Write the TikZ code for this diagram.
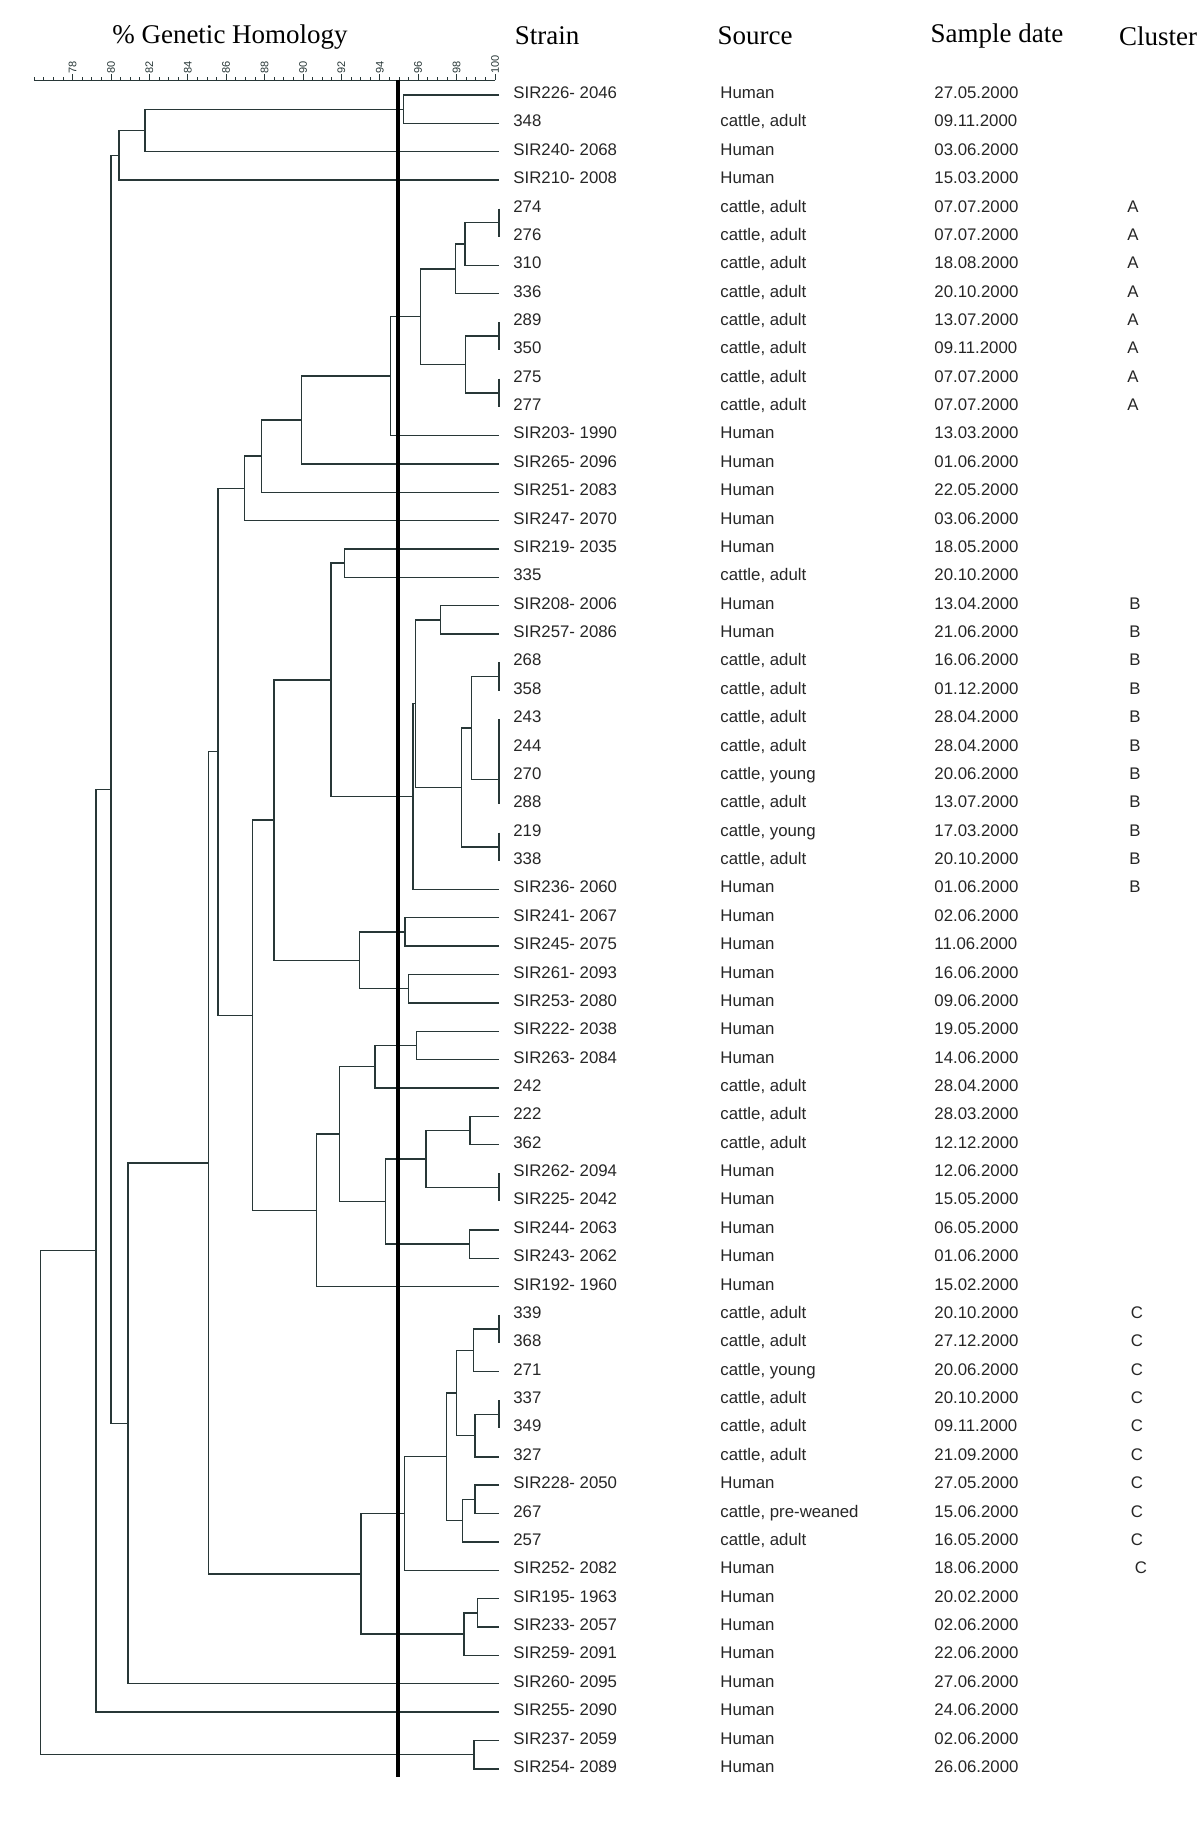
\documentclass[tikz,border=0pt]{standalone}
\usepackage{fontspec}
\setmainfont{Liberation Serif}
\setsansfont{Liberation Sans}
\definecolor{treegray}{RGB}{40,55,55}
\begin{document}
\begin{tikzpicture}[x=0.5pt,y=0.5pt,
  strain/.style={anchor=west, inner xsep=7pt, inner ysep=0pt, text height=6pt, text depth=2.5pt, text=black!85, font=\sffamily\fontsize{8.4}{10}\selectfont},
  cell/.style={anchor=west, inner sep=0pt, text height=6pt, text depth=2.5pt, text=black!85, font=\sffamily\fontsize{8.4}{10}\selectfont},
  grp/.style={inner sep=0pt, text height=6pt, text depth=2.5pt, text=black!85, font=\sffamily\fontsize{8.4}{10}\selectfont},
  head/.style={inner sep=0pt, font=\fontsize{13.5}{16}\selectfont},
  ticklabel/.style={rotate=90, anchor=west, inner sep=0pt, text=treegray, font=\sffamily\fontsize{5.5}{6}\selectfont},
  axisline/.style={draw=treegray, line width=0.5pt},
  branch/.style={draw=treegray, line width=0.7pt}]
\useasboundingbox (0,0) rectangle (1200,-1838);

\node[head] (homology) at (230,-37) {\% Genetic Homology};
\node[head] (strainhead) at (547,-36) {Strain};
\node[head] (sourcehead) at (755,-36) {Source};
\node[head] (datehead) at (997,-36) {Sample date};
\node[head] (clusterhead) at (1158,-36) {Cluster};

\draw[axisline] (34.2,-80) -- (495,-80);
\foreach \p in {76,76.5,...,100}
  \draw[axisline] ({495+(\p-100)*19.2},-80) -- ++(0,3);
\foreach \p in {78,80,...,100} {
  \draw[axisline] ({495+(\p-100)*19.2},-80) -- ++(0,6);
  \node[ticklabel] (tick\p) at ({495+(\p-100)*19.2},-74) {\p};
}

\node[strain] (r1) at (499,-95.0) {SIR226- 2046}; \node[cell] (src1) at (720,-95.0) {Human}; \node[cell] (date1) at (934,-95.0) {27.05.2000};
\node[strain] (r2) at (499,-123.4) {348}; \node[cell] (src2) at (720,-123.4) {cattle, adult}; \node[cell] (date2) at (934,-123.4) {09.11.2000};
\node[strain] (r3) at (499,-151.7) {SIR240- 2068}; \node[cell] (src3) at (720,-151.7) {Human}; \node[cell] (date3) at (934,-151.7) {03.06.2000};
\node[strain] (r4) at (499,-180.1) {SIR210- 2008}; \node[cell] (src4) at (720,-180.1) {Human}; \node[cell] (date4) at (934,-180.1) {15.03.2000};
\node[strain] (r5) at (499,-208.5) {274}; \node[cell] (src5) at (720,-208.5) {cattle, adult}; \node[cell] (date5) at (934,-208.5) {07.07.2000}; \node[grp] (cl5) at (1133,-208.5) {A};
\node[strain] (r6) at (499,-236.9) {276}; \node[cell] (src6) at (720,-236.9) {cattle, adult}; \node[cell] (date6) at (934,-236.9) {07.07.2000}; \node[grp] (cl6) at (1133,-236.9) {A};
\node[strain] (r7) at (499,-265.2) {310}; \node[cell] (src7) at (720,-265.2) {cattle, adult}; \node[cell] (date7) at (934,-265.2) {18.08.2000}; \node[grp] (cl7) at (1133,-265.2) {A};
\node[strain] (r8) at (499,-293.6) {336}; \node[cell] (src8) at (720,-293.6) {cattle, adult}; \node[cell] (date8) at (934,-293.6) {20.10.2000}; \node[grp] (cl8) at (1133,-293.6) {A};
\node[strain] (r9) at (499,-322.0) {289}; \node[cell] (src9) at (720,-322.0) {cattle, adult}; \node[cell] (date9) at (934,-322.0) {13.07.2000}; \node[grp] (cl9) at (1133,-322.0) {A};
\node[strain] (r10) at (499,-350.3) {350}; \node[cell] (src10) at (720,-350.3) {cattle, adult}; \node[cell] (date10) at (934,-350.3) {09.11.2000}; \node[grp] (cl10) at (1133,-350.3) {A};
\node[strain] (r11) at (499,-378.7) {275}; \node[cell] (src11) at (720,-378.7) {cattle, adult}; \node[cell] (date11) at (934,-378.7) {07.07.2000}; \node[grp] (cl11) at (1133,-378.7) {A};
\node[strain] (r12) at (499,-407.1) {277}; \node[cell] (src12) at (720,-407.1) {cattle, adult}; \node[cell] (date12) at (934,-407.1) {07.07.2000}; \node[grp] (cl12) at (1133,-407.1) {A};
\node[strain] (r13) at (499,-435.4) {SIR203- 1990}; \node[cell] (src13) at (720,-435.4) {Human}; \node[cell] (date13) at (934,-435.4) {13.03.2000};
\node[strain] (r14) at (499,-463.8) {SIR265- 2096}; \node[cell] (src14) at (720,-463.8) {Human}; \node[cell] (date14) at (934,-463.8) {01.06.2000};
\node[strain] (r15) at (499,-492.2) {SIR251- 2083}; \node[cell] (src15) at (720,-492.2) {Human}; \node[cell] (date15) at (934,-492.2) {22.05.2000};
\node[strain] (r16) at (499,-520.6) {SIR247- 2070}; \node[cell] (src16) at (720,-520.6) {Human}; \node[cell] (date16) at (934,-520.6) {03.06.2000};
\node[strain] (r17) at (499,-548.9) {SIR219- 2035}; \node[cell] (src17) at (720,-548.9) {Human}; \node[cell] (date17) at (934,-548.9) {18.05.2000};
\node[strain] (r18) at (499,-577.3) {335}; \node[cell] (src18) at (720,-577.3) {cattle, adult}; \node[cell] (date18) at (934,-577.3) {20.10.2000};
\node[strain] (r19) at (499,-605.7) {SIR208- 2006}; \node[cell] (src19) at (720,-605.7) {Human}; \node[cell] (date19) at (934,-605.7) {13.04.2000}; \node[grp] (cl19) at (1135,-605.7) {B};
\node[strain] (r20) at (499,-634.0) {SIR257- 2086}; \node[cell] (src20) at (720,-634.0) {Human}; \node[cell] (date20) at (934,-634.0) {21.06.2000}; \node[grp] (cl20) at (1135,-634.0) {B};
\node[strain] (r21) at (499,-662.4) {268}; \node[cell] (src21) at (720,-662.4) {cattle, adult}; \node[cell] (date21) at (934,-662.4) {16.06.2000}; \node[grp] (cl21) at (1135,-662.4) {B};
\node[strain] (r22) at (499,-690.8) {358}; \node[cell] (src22) at (720,-690.8) {cattle, adult}; \node[cell] (date22) at (934,-690.8) {01.12.2000}; \node[grp] (cl22) at (1135,-690.8) {B};
\node[strain] (r23) at (499,-719.1) {243}; \node[cell] (src23) at (720,-719.1) {cattle, adult}; \node[cell] (date23) at (934,-719.1) {28.04.2000}; \node[grp] (cl23) at (1135,-719.1) {B};
\node[strain] (r24) at (499,-747.5) {244}; \node[cell] (src24) at (720,-747.5) {cattle, adult}; \node[cell] (date24) at (934,-747.5) {28.04.2000}; \node[grp] (cl24) at (1135,-747.5) {B};
\node[strain] (r25) at (499,-775.9) {270}; \node[cell] (src25) at (720,-775.9) {cattle, young}; \node[cell] (date25) at (934,-775.9) {20.06.2000}; \node[grp] (cl25) at (1135,-775.9) {B};
\node[strain] (r26) at (499,-804.3) {288}; \node[cell] (src26) at (720,-804.3) {cattle, adult}; \node[cell] (date26) at (934,-804.3) {13.07.2000}; \node[grp] (cl26) at (1135,-804.3) {B};
\node[strain] (r27) at (499,-832.6) {219}; \node[cell] (src27) at (720,-832.6) {cattle, young}; \node[cell] (date27) at (934,-832.6) {17.03.2000}; \node[grp] (cl27) at (1135,-832.6) {B};
\node[strain] (r28) at (499,-861.0) {338}; \node[cell] (src28) at (720,-861.0) {cattle, adult}; \node[cell] (date28) at (934,-861.0) {20.10.2000}; \node[grp] (cl28) at (1135,-861.0) {B};
\node[strain] (r29) at (499,-889.4) {SIR236- 2060}; \node[cell] (src29) at (720,-889.4) {Human}; \node[cell] (date29) at (934,-889.4) {01.06.2000}; \node[grp] (cl29) at (1135,-889.4) {B};
\node[strain] (r30) at (499,-917.7) {SIR241- 2067}; \node[cell] (src30) at (720,-917.7) {Human}; \node[cell] (date30) at (934,-917.7) {02.06.2000};
\node[strain] (r31) at (499,-946.1) {SIR245- 2075}; \node[cell] (src31) at (720,-946.1) {Human}; \node[cell] (date31) at (934,-946.1) {11.06.2000};
\node[strain] (r32) at (499,-974.5) {SIR261- 2093}; \node[cell] (src32) at (720,-974.5) {Human}; \node[cell] (date32) at (934,-974.5) {16.06.2000};
\node[strain] (r33) at (499,-1002.8) {SIR253- 2080}; \node[cell] (src33) at (720,-1002.8) {Human}; \node[cell] (date33) at (934,-1002.8) {09.06.2000};
\node[strain] (r34) at (499,-1031.2) {SIR222- 2038}; \node[cell] (src34) at (720,-1031.2) {Human}; \node[cell] (date34) at (934,-1031.2) {19.05.2000};
\node[strain] (r35) at (499,-1059.6) {SIR263- 2084}; \node[cell] (src35) at (720,-1059.6) {Human}; \node[cell] (date35) at (934,-1059.6) {14.06.2000};
\node[strain] (r36) at (499,-1088.0) {242}; \node[cell] (src36) at (720,-1088.0) {cattle, adult}; \node[cell] (date36) at (934,-1088.0) {28.04.2000};
\node[strain] (r37) at (499,-1116.3) {222}; \node[cell] (src37) at (720,-1116.3) {cattle, adult}; \node[cell] (date37) at (934,-1116.3) {28.03.2000};
\node[strain] (r38) at (499,-1144.7) {362}; \node[cell] (src38) at (720,-1144.7) {cattle, adult}; \node[cell] (date38) at (934,-1144.7) {12.12.2000};
\node[strain] (r39) at (499,-1173.1) {SIR262- 2094}; \node[cell] (src39) at (720,-1173.1) {Human}; \node[cell] (date39) at (934,-1173.1) {12.06.2000};
\node[strain] (r40) at (499,-1201.4) {SIR225- 2042}; \node[cell] (src40) at (720,-1201.4) {Human}; \node[cell] (date40) at (934,-1201.4) {15.05.2000};
\node[strain] (r41) at (499,-1229.8) {SIR244- 2063}; \node[cell] (src41) at (720,-1229.8) {Human}; \node[cell] (date41) at (934,-1229.8) {06.05.2000};
\node[strain] (r42) at (499,-1258.2) {SIR243- 2062}; \node[cell] (src42) at (720,-1258.2) {Human}; \node[cell] (date42) at (934,-1258.2) {01.06.2000};
\node[strain] (r43) at (499,-1286.5) {SIR192- 1960}; \node[cell] (src43) at (720,-1286.5) {Human}; \node[cell] (date43) at (934,-1286.5) {15.02.2000};
\node[strain] (r44) at (499,-1314.9) {339}; \node[cell] (src44) at (720,-1314.9) {cattle, adult}; \node[cell] (date44) at (934,-1314.9) {20.10.2000}; \node[grp] (cl44) at (1137,-1314.9) {C};
\node[strain] (r45) at (499,-1343.3) {368}; \node[cell] (src45) at (720,-1343.3) {cattle, adult}; \node[cell] (date45) at (934,-1343.3) {27.12.2000}; \node[grp] (cl45) at (1137,-1343.3) {C};
\node[strain] (r46) at (499,-1371.6) {271}; \node[cell] (src46) at (720,-1371.6) {cattle, young}; \node[cell] (date46) at (934,-1371.6) {20.06.2000}; \node[grp] (cl46) at (1137,-1371.6) {C};
\node[strain] (r47) at (499,-1400.0) {337}; \node[cell] (src47) at (720,-1400.0) {cattle, adult}; \node[cell] (date47) at (934,-1400.0) {20.10.2000}; \node[grp] (cl47) at (1137,-1400.0) {C};
\node[strain] (r48) at (499,-1428.4) {349}; \node[cell] (src48) at (720,-1428.4) {cattle, adult}; \node[cell] (date48) at (934,-1428.4) {09.11.2000}; \node[grp] (cl48) at (1137,-1428.4) {C};
\node[strain] (r49) at (499,-1456.8) {327}; \node[cell] (src49) at (720,-1456.8) {cattle, adult}; \node[cell] (date49) at (934,-1456.8) {21.09.2000}; \node[grp] (cl49) at (1137,-1456.8) {C};
\node[strain] (r50) at (499,-1485.1) {SIR228- 2050}; \node[cell] (src50) at (720,-1485.1) {Human}; \node[cell] (date50) at (934,-1485.1) {27.05.2000}; \node[grp] (cl50) at (1137,-1485.1) {C};
\node[strain] (r51) at (499,-1513.5) {267}; \node[cell] (src51) at (720,-1513.5) {cattle, pre-weaned}; \node[cell] (date51) at (934,-1513.5) {15.06.2000}; \node[grp] (cl51) at (1137,-1513.5) {C};
\node[strain] (r52) at (499,-1541.9) {257}; \node[cell] (src52) at (720,-1541.9) {cattle, adult}; \node[cell] (date52) at (934,-1541.9) {16.05.2000}; \node[grp] (cl52) at (1137,-1541.9) {C};
\node[strain] (r53) at (499,-1570.2) {SIR252- 2082}; \node[cell] (src53) at (720,-1570.2) {Human}; \node[cell] (date53) at (934,-1570.2) {18.06.2000}; \node[grp] (cl53) at (1141,-1570.2) {C};
\node[strain] (r54) at (499,-1598.6) {SIR195- 1963}; \node[cell] (src54) at (720,-1598.6) {Human}; \node[cell] (date54) at (934,-1598.6) {20.02.2000};
\node[strain] (r55) at (499,-1627.0) {SIR233- 2057}; \node[cell] (src55) at (720,-1627.0) {Human}; \node[cell] (date55) at (934,-1627.0) {02.06.2000};
\node[strain] (r56) at (499,-1655.3) {SIR259- 2091}; \node[cell] (src56) at (720,-1655.3) {Human}; \node[cell] (date56) at (934,-1655.3) {22.06.2000};
\node[strain] (r57) at (499,-1683.7) {SIR260- 2095}; \node[cell] (src57) at (720,-1683.7) {Human}; \node[cell] (date57) at (934,-1683.7) {27.06.2000};
\node[strain] (r58) at (499,-1712.1) {SIR255- 2090}; \node[cell] (src58) at (720,-1712.1) {Human}; \node[cell] (date58) at (934,-1712.1) {24.06.2000};
\node[strain] (r59) at (499,-1740.5) {SIR237- 2059}; \node[cell] (src59) at (720,-1740.5) {Human}; \node[cell] (date59) at (934,-1740.5) {02.06.2000};
\node[strain] (r60) at (499,-1768.8) {SIR254- 2089}; \node[cell] (src60) at (720,-1768.8) {Human}; \node[cell] (date60) at (934,-1768.8) {26.06.2000};

\coordinate (t1) at (403.3,-109.2);
\coordinate (t2) at (145,-130.45);
\coordinate (t3) at (119,-155.3);
\coordinate (a1) at (499,-222.7);
\coordinate (a2) at (465,-243.95);
\coordinate (a3) at (455.7,-268.8);
\coordinate (a4) at (499,-336.15);
\coordinate (a5) at (499,-392.9);
\coordinate (a6) at (465.7,-364.5);
\coordinate (a7) at (420.3,-316.65);
\coordinate (a8) at (390.7,-376.0);
\coordinate (a9) at (301.7,-419.9);
\coordinate (a10) at (261.7,-456.05);
\coordinate (a11) at (244.3,-488.3);
\coordinate (b1) at (344.3,-563.1);
\coordinate (b2) at (440.7,-619.85);
\coordinate (b3) at (499,-676.6);
\coordinate (b4) at (499,-733.3);
\coordinate (b5) at (499,-754.6);
\coordinate (b6) at (499,-779.45);
\coordinate (b7) at (471.7,-728.0);
\coordinate (b8) at (499,-846.8);
\coordinate (b9) at (461.7,-787.4);
\coordinate (b10) at (415.5,-703.6);
\coordinate (b11) at (413,-796.5);
\coordinate (b12) at (331,-679.8);
\coordinate (m1) at (405,-931.9);
\coordinate (m2) at (408.3,-988.65);
\coordinate (m3) at (359.3,-960.3);
\coordinate (m4) at (274,-820.05);
\coordinate (m5) at (416.7,-1045.4);
\coordinate (m6) at (375,-1066.7);
\coordinate (m7) at (470,-1130.5);
\coordinate (m8) at (499,-1187.25);
\coordinate (m9) at (426,-1158.9);
\coordinate (m10) at (469.3,-1244.0);
\coordinate (m11) at (385.5,-1201.45);
\coordinate (m12) at (339.3,-1134.1);
\coordinate (m13) at (316.5,-1210.3);
\coordinate (m14) at (252.3,-1015.2);
\coordinate (m15) at (218,-751.75);
\coordinate (c1) at (499,-1329.1);
\coordinate (c2) at (473.3,-1350.35);
\coordinate (c3) at (499,-1414.2);
\coordinate (c4) at (475,-1435.5);
\coordinate (c5) at (456.7,-1392.9);
\coordinate (c6) at (475,-1499.3);
\coordinate (c7) at (462.7,-1520.6);
\coordinate (c8) at (446.7,-1456.75);
\coordinate (c9) at (404.3,-1513.5);
\coordinate (c10) at (477.3,-1612.8);
\coordinate (c11) at (464,-1634.05);
\coordinate (c12) at (361,-1573.8);
\coordinate (u1) at (208.5,-1162.8);
\coordinate (u2) at (128,-1423.25);
\coordinate (u3) at (111,-789.3);
\coordinate (u4) at (96,-1250.7);
\coordinate (u5) at (474,-1754.65);
\coordinate (root) at (40.5,-1502.7);

\draw[branch] (r1.west) -| (t1) |- (r2.west);
\draw[branch] (t1) -| (t2) |- (r3.west);
\draw[branch] (t2) -| (t3) |- (r4.west);
\draw[branch] (r5.west) -| (a1) |- (r6.west);
\draw[branch] (a1) -| (a2) |- (r7.west);
\draw[branch] (a2) -| (a3) |- (r8.west);
\draw[branch] (r9.west) -| (a4) |- (r10.west);
\draw[branch] (r11.west) -| (a5) |- (r12.west);
\draw[branch] (a4) -| (a6) |- (a5);
\draw[branch] (a3) -| (a7) |- (a6);
\draw[branch] (a7) -| (a8) |- (r13.west);
\draw[branch] (a8) -| (a9) |- (r14.west);
\draw[branch] (a9) -| (a10) |- (r15.west);
\draw[branch] (a10) -| (a11) |- (r16.west);
\draw[branch] (r17.west) -| (b1) |- (r18.west);
\draw[branch] (r19.west) -| (b2) |- (r20.west);
\draw[branch] (r21.west) -| (b3) |- (r22.west);
\draw[branch] (r23.west) -| (b4) |- (r24.west);
\draw[branch] (b4) -| (b5) |- (r25.west);
\draw[branch] (b5) -| (b6) |- (r26.west);
\draw[branch] (b3) -| (b7) |- (b6);
\draw[branch] (r27.west) -| (b8) |- (r28.west);
\draw[branch] (b7) -| (b9) |- (b8);
\draw[branch] (b2) -| (b10) |- (b9);
\draw[branch] (b10) -| (b11) |- (r29.west);
\draw[branch] (b1) -| (b12) |- (b11);
\draw[branch] (r30.west) -| (m1) |- (r31.west);
\draw[branch] (r32.west) -| (m2) |- (r33.west);
\draw[branch] (m1) -| (m3) |- (m2);
\draw[branch] (b12) -| (m4) |- (m3);
\draw[branch] (r34.west) -| (m5) |- (r35.west);
\draw[branch] (m5) -| (m6) |- (r36.west);
\draw[branch] (r37.west) -| (m7) |- (r38.west);
\draw[branch] (r39.west) -| (m8) |- (r40.west);
\draw[branch] (m7) -| (m9) |- (m8);
\draw[branch] (r41.west) -| (m10) |- (r42.west);
\draw[branch] (m9) -| (m11) |- (m10);
\draw[branch] (m6) -| (m12) |- (m11);
\draw[branch] (m12) -| (m13) |- (r43.west);
\draw[branch] (m4) -| (m14) |- (m13);
\draw[branch] (a11) -| (m15) |- (m14);
\draw[branch] (r44.west) -| (c1) |- (r45.west);
\draw[branch] (c1) -| (c2) |- (r46.west);
\draw[branch] (r47.west) -| (c3) |- (r48.west);
\draw[branch] (c3) -| (c4) |- (r49.west);
\draw[branch] (c2) -| (c5) |- (c4);
\draw[branch] (r50.west) -| (c6) |- (r51.west);
\draw[branch] (c6) -| (c7) |- (r52.west);
\draw[branch] (c5) -| (c8) |- (c7);
\draw[branch] (c8) -| (c9) |- (r53.west);
\draw[branch] (r54.west) -| (c10) |- (r55.west);
\draw[branch] (c10) -| (c11) |- (r56.west);
\draw[branch] (c9) -| (c12) |- (c11);
\draw[branch] (m15) -| (u1) |- (c12);
\draw[branch] (u1) -| (u2) |- (r57.west);
\draw[branch] (t3) -| (u3) |- (u2);
\draw[branch] (u3) -| (u4) |- (r58.west);
\draw[branch] (r59.west) -| (u5) |- (r60.west);
\draw[branch] (u4) -| (root) |- (u5);

\draw[line width=2pt] (398,-80) -- (398,-1777);
\end{tikzpicture}
\end{document}
